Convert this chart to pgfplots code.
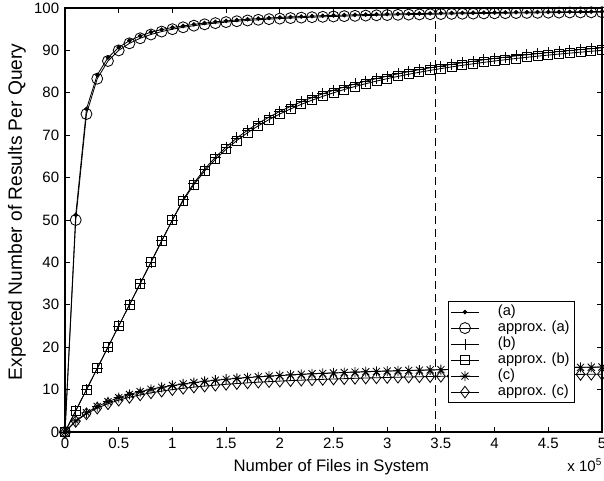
\documentclass[border=0pt]{standalone}
\usepackage{fontspec}
\setmainfont{Liberation Sans}
\usepackage{pgfplots}
\usepackage{pgfplotstable}
\pgfplotsset{compat=1.18}

% eight-spoke asterisk: a plus and a cross on top of each other
\pgfdeclareplotmark{mstar}{%
  \pgfpathmoveto{\pgfqpoint{-\pgfplotmarksize}{0pt}}%
  \pgfpathlineto{\pgfqpoint{\pgfplotmarksize}{0pt}}%
  \pgfpathmoveto{\pgfqpoint{0pt}{-\pgfplotmarksize}}%
  \pgfpathlineto{\pgfqpoint{0pt}{\pgfplotmarksize}}%
  \pgfpathmoveto{\pgfqpoint{-0.707\pgfplotmarksize}{-0.707\pgfplotmarksize}}%
  \pgfpathlineto{\pgfqpoint{0.707\pgfplotmarksize}{0.707\pgfplotmarksize}}%
  \pgfpathmoveto{\pgfqpoint{-0.707\pgfplotmarksize}{0.707\pgfplotmarksize}}%
  \pgfpathlineto{\pgfqpoint{0.707\pgfplotmarksize}{-0.707\pgfplotmarksize}}%
  \pgfusepathqstroke}

% x in units of 10^5 files; y = expected results per query
\pgfplotstableread{
x    a      aa     b      ab     c      ac
0.0  0      0      0      0      0      0
0.1  51.2   50     5      5      2.62   2.5
0.2  76.2   75     10     10     4.53   4.29
0.3  84.2   83.33  15     15     6.00   5.63
0.4  88.3   87.5   20     20     7.16   6.67
0.5  90.7   90     25     25     8.10   7.5
0.6  92.3   91.67  30     30     8.87   8.18
0.7  93.4   92.86  35     35     9.52   8.75
0.8  94.3   93.75  40     40     10.07  9.23
0.9  94.9   94.44  45.1   45     10.55  9.64
1.0  95.4   95     50.0   50     10.97  10
1.1  95.76  95.45  54.8   54.55  11.33  10.31
1.2  96.13  95.83  58.7   58.33  11.66  10.59
1.3  96.45  96.15  62.0   61.54  11.95  10.83
1.4  96.72  96.43  64.8   64.29  12.21  11.05
1.5  96.96  96.67  67.2   66.67  12.44  11.25
1.6  97.16  96.88  69.35  68.75  12.65  11.43
1.7  97.34  97.06  71.19  70.59  12.84  11.59
1.8  97.50  97.22  72.82  72.22  13.02  11.74
1.9  97.64  97.37  74.28  73.68  13.18  11.88
2.0  97.77  97.5   75.6   75     13.33  12
2.1  97.88  97.62  76.79  76.19  13.47  12.12
2.2  97.99  97.73  77.87  77.27  13.60  12.22
2.3  98.08  97.83  78.86  78.26  13.72  12.32
2.4  98.17  97.92  79.77  79.17  13.83  12.41
2.5  98.25  98     80.6   80     13.93  12.5
2.6  98.32  98.08  81.37  80.77  14.03  12.58
2.7  98.39  98.15  82.08  81.48  14.12  12.66
2.8  98.45  98.21  82.74  82.14  14.21  12.73
2.9  98.51  98.28  83.36  82.76  14.29  12.79
3.0  98.56  98.33  83.93  83.33  14.37  12.86
3.1  98.61  98.39  84.47  83.87  14.44  12.92
3.2  98.66  98.44  84.98  84.38  14.51  12.97
3.3  98.70  98.48  85.45  84.85  14.57  13.03
3.4  98.74  98.53  85.89  85.29  14.63  13.08
3.5  98.78  98.57  86.31  85.71  14.69  13.13
3.6  98.82  98.61  86.71  86.11  14.75  13.17
3.7  98.85  98.65  87.09  86.49  14.80  13.21
3.8  98.88  98.68  87.44  86.84  14.85  13.26
3.9  98.91  98.72  87.78  87.18  14.90  13.30
4.0  98.94  98.75  88.10  87.5   14.95  13.33
4.1  98.97  98.78  88.41  87.80  14.99  13.37
4.2  99.00  98.81  88.70  88.10  15.03  13.40
4.3  99.02  98.84  88.97  88.37  15.07  13.44
4.4  99.05  98.86  89.24  88.64  15.11  13.47
4.5  99.07  98.89  89.49  88.89  15.15  13.50
4.6  99.09  98.91  89.73  89.13  15.18  13.53
4.7  99.11  98.94  89.96  89.36  15.22  13.56
4.8  99.13  98.96  90.18  89.58  15.25  13.59
4.9  99.15  98.98  90.40  89.80  15.28  13.61
5.0  99.17  99     90.60  90     15.32  13.64
}\results

\begin{document}
\begin{tikzpicture}
\useasboundingbox (-39pt,-29.4pt) rectangle (323.4pt,259.2pt);
\begin{axis}[
  at={(0,0)}, anchor=south west,
  scale only axis, width=322.2pt, height=254.4pt,
  xmin=0, xmax=5, ymin=0, ymax=100,
  xtick={0,0.5,1,1.5,2,2.5,3,3.5,4,4.5,5},
  ytick={0,10,20,30,40,50,60,70,80,90,100},
  /pgf/number format/assume math mode=true,
  tick label style={font=\fontsize{9}{10}\selectfont},
  tick align=inside, major tick length=3pt,
  axis line style={line width=0.7pt},
  every tick/.style={black, line width=0.5pt},
  xlabel={Number of Files in System},
  ylabel={Expected Number of Results Per Query},
  xlabel style={font=\fontsize{10}{12}\selectfont, at={(axis description cs:0.496,-0.0825)}, anchor=center},
  ylabel style={font=\fontsize{11.5}{13}\selectfont, at={(axis description cs:-0.0894,0.519)}, anchor=center},
  every axis plot/.append style={black, line width=0.5pt},
  every mark/.append style={solid},
  legend style={
    at={(0.95,0.068)}, anchor=south east,
    font=\fontsize{8.8}{9.6}\selectfont,
    draw=black, line width=0.7pt,
    inner xsep=1pt, inner ysep=1.5pt,
    column sep=10pt,
    nodes={inner xsep=1pt, inner ysep=0pt, text width=44pt, align=left,
           text height=6.6pt, text depth=3pt},
  },
  legend cell align=left,
  legend image code/.code={%
    \draw[line width=0.5pt, mark repeat=2, mark phase=2]
      plot coordinates {(0pt,0pt) (8.5pt,0pt) (17pt,0pt)};},
]
\addplot[mark=*, mark size=1.1pt] table[x=x, y=a] {\results};
\addlegendentry{(a)}
\addplot[mark=o, mark size=3.3pt] table[x=x, y=aa] {\results};
\addlegendentry{approx.\ (a)}
\addplot[mark=+, mark size=3.3pt] table[x=x, y=b] {\results};
\addlegendentry{(b)}
\addplot[mark=square, mark size=2.7pt] table[x=x, y=ab] {\results};
\addlegendentry{approx.\ (b)}
\addplot[mark=mstar, mark size=3pt] table[x=x, y=c] {\results};
\addlegendentry{(c)}
\addplot[mark=diamond, mark size=3.5pt] table[x=x, y=ac] {\results};
\addlegendentry{approx.\ (c)}
% reference size marked by a dashed vertical line
\addplot[forget plot, dash pattern=on 4.8pt off 3pt, line width=0.5pt] coordinates {(3.45,0) (3.45,100)};
\end{axis}
% scale factor of the x axis, below its right end
\node[font=\fontsize{9}{10}\selectfont] at (311.9pt,-19.8pt) {x 10\textsuperscript{5}};
\end{tikzpicture}
\end{document}
